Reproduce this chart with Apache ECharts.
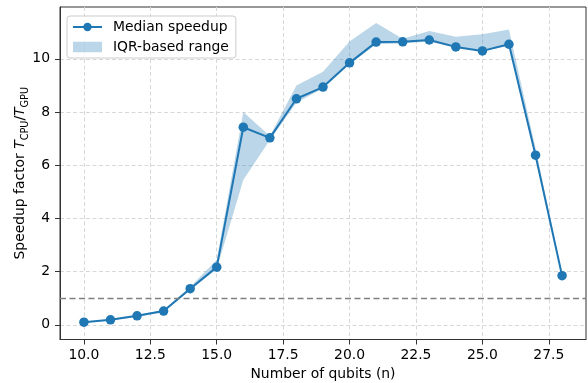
<!DOCTYPE html>
<html>
<head>
<meta charset="utf-8">
<style>
  html, body { margin: 0; padding: 0; background: #ffffff; }
  #chart { width: 588px; height: 383px; }
</style>
<script src="https://cdn.jsdelivr.net/npm/echarts@6/dist/echarts.min.js"></script>
</head>
<body>
<div id="chart"></div>
<script>
// Number of qubits simulated
const nQubits = [10, 11, 12, 13, 14, 15, 16, 17, 18, 19, 20, 21, 22, 23, 24, 25, 26, 27, 28];
// Median CPU/GPU speedup per qubit count
const medianSpeedup = [0.10, 0.19, 0.34, 0.52, 1.36, 2.17, 7.43, 7.03, 8.50, 8.94, 9.85, 10.63, 10.64, 10.71, 10.45, 10.30, 10.55, 6.38, 1.85];
// Lower / upper edges of the IQR-based range
const iqrLow  = [0.08, 0.16, 0.30, 0.47, 1.30, 2.10, 5.45, 6.95, 8.35, 8.90, 9.80, 10.55, 10.58, 10.65, 10.42, 10.28, 10.50, 6.30, 1.80];
const iqrHigh = [0.12, 0.21, 0.37, 0.56, 1.42, 2.45, 8.00, 7.10, 9.00, 9.52, 10.65, 11.35, 10.76, 11.05, 10.83, 10.93, 11.10, 6.65, 1.90];
// Tick positions
const xTicks = [10, 12.5, 15, 17.5, 20, 22.5, 25, 27.5];
const yTicks = [0, 2, 4, 6, 8, 10];
const speedupThreshold = 1;

const C0 = '#1f77b4';
const BAND = 'rgba(31,119,180,0.3)';
const FONT = 'DejaVu Sans';
const AXIS_COLOR = '#333333';

const chart = echarts.init(document.getElementById('chart'), null, { renderer: 'canvas' });

const gridLine = { show: true, lineStyle: { color: '#d8d8d8', width: 1, type: [4, 2.5] } };

chart.setOption({
  animation: false,
  backgroundColor: '#ffffff',
  textStyle: { fontFamily: FONT },
  grid: {
    left: 60, right: 2, top: 7, bottom: 43.5,
    outerBoundsMode: 'none',
    containLabel: false,
    show: true, borderColor: AXIS_COLOR, borderWidth: 1, backgroundColor: 'transparent'
  },
  legend: {
    orient: 'vertical',
    left: 67, top: 16,
    padding: [4, 7, 4, 5],
    itemWidth: 29, itemHeight: 10.5, itemGap: 6,
    backgroundColor: 'rgba(255,255,255,0.8)',
    borderColor: '#cccccc', borderWidth: 1, borderRadius: 3,
    textStyle: { fontFamily: FONT, fontSize: 13.9, color: '#000000', padding: [0, 0, 0, 6] },
    data: [
      { name: 'Median speedup' },
      { name: 'IQR-based range', icon: 'rect', itemStyle: { color: BAND } }
    ]
  },
  xAxis: {
    type: 'value',
    min: 9.1, max: 28.9,
    name: 'Number of qubits (n)',
    nameLocation: 'middle',
    nameGap: 28,
    nameMoveOverlap: false,
    nameTextStyle: { fontFamily: FONT, fontSize: 13.9, color: '#000000' },
    axisLine: { show: true, onZero: false, lineStyle: { color: AXIS_COLOR, width: 1 } },
    axisTick: { show: true, length: 5, inside: false, customValues: xTicks, lineStyle: { color: AXIS_COLOR, width: 1 } },
    axisLabel: {
      customValues: xTicks, margin: 9,
      fontFamily: FONT, fontSize: 13.9, color: '#000000',
      formatter: function (v) { return v.toFixed(1); }
    },
    splitLine: gridLine
  },
  yAxis: {
    type: 'value',
    min: -0.55, max: 11.95,
    name: '{t|Speedup factor }{i|T}{s|CPU}{t|/}{i|T}{s|GPU}',
    nameLocation: 'middle',
    nameGap: 30,
    nameMoveOverlap: false,
    nameTextStyle: {
      fontFamily: FONT, fontSize: 13.9, color: '#000000',
      rich: {
        t: { fontFamily: FONT, fontSize: 13.9, color: '#000000', lineHeight: 14, verticalAlign: 'middle' },
        i: { fontFamily: FONT, fontSize: 13.9, fontStyle: 'italic', color: '#000000', lineHeight: 14, verticalAlign: 'middle' },
        s: { fontFamily: FONT, fontSize: 9.7, color: '#000000', lineHeight: 20, verticalAlign: 'bottom' }
      }
    },
    axisLine: { show: true, onZero: false, lineStyle: { color: AXIS_COLOR, width: 1 } },
    axisTick: { show: true, length: 5, inside: false, customValues: yTicks, lineStyle: { color: AXIS_COLOR, width: 1 } },
    axisLabel: {
      customValues: yTicks, margin: 10,
      fontFamily: FONT, fontSize: 13.9, color: '#000000'
    },
    splitLine: gridLine
  },
  series: [
    {
      name: 'IQR-based range',
      type: 'custom',
      itemStyle: { color: BAND },
      data: nQubits.map(function (n, i) { return [n, iqrLow[i], iqrHigh[i]]; }),
      encode: { x: 0, y: [1, 2] },
      renderItem: function (params, api) {
        if (params.dataIndex !== 0) return;
        const pts = [];
        for (let i = 0; i < nQubits.length; i++) pts.push(api.coord([nQubits[i], iqrHigh[i]]));
        for (let i = nQubits.length - 1; i >= 0; i--) pts.push(api.coord([nQubits[i], iqrLow[i]]));
        return { type: 'polygon', shape: { points: pts }, style: { fill: BAND } };
      },
      z: 2
    },
    {
      name: 'Median speedup',
      type: 'line',
      data: nQubits.map(function (n, i) { return [n, medianSpeedup[i]]; }),
      symbol: 'circle',
      symbolSize: 9.5,
      showSymbol: true,
      lineStyle: { color: C0, width: 2 },
      itemStyle: { color: C0, borderWidth: 0 },
      z: 3,
      markLine: {
        silent: true,
        symbol: ['none', 'none'],
        label: { show: false },
        lineStyle: { color: '#808080', width: 1.3, type: [6, 3.5] },
        data: [{ yAxis: speedupThreshold }]
      }
    }
  ]
});
</script>
</body>
</html>
